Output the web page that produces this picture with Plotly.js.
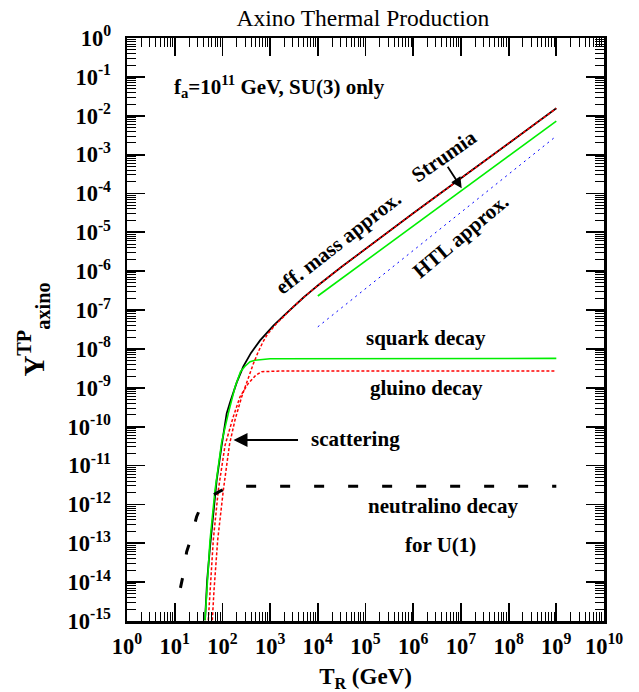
<!DOCTYPE html>
<html>
<head>
<meta charset="utf-8">
<script src="https://cdn.plot.ly/plotly-3.0.1.min.js"></script>
<style>html,body{margin:0;padding:0;background:#fff;}#chart{width:639px;height:692px;}</style>
</head>
<body>
<div id="chart"></div>
<script>
// ---- data (T_R in GeV, Y = axino yield) ----
var effMassT = [43.2, 47.9, 55.0, 64.6, 75.9, 95.5, 123, 145, 200, 275, 398, 617, 851, 1175, 1995, 3090, 5012, 6918, 1e4, 31623, 1e5, 1e6, 1e7, 1e8, 1e9];
var effMassY = [1.05e-15, 1.12e-14, 8.1e-14, 5.9e-13, 4.2e-12, 3.0e-11, 2.2e-10, 4.27e-10, 1.38e-9, 3.55e-9, 7.9e-9, 1.66e-8, 2.63e-8, 3.98e-8, 7.4e-8, 1.24e-7, 2.10e-7, 2.94e-7, 4.28e-7, 1.30e-6, 3.79e-6, 3.08e-5, 2.45e-4, 1.95e-3, 1.55e-2];

var squarkT = [43.2, 46.9, 55.0, 70.0, 96.6, 133, 184, 240, 298, 380, 482, 1000, 1e9];
var squarkY = [1.05e-15, 6.2e-15, 1.2e-13, 2.3e-12, 4.0e-11, 2.2e-10, 1.05e-9, 2.6e-9, 3.6e-9, 4.7e-9, 5.1e-9, 5.6e-9, 5.7e-9];

var scatterT = [61.4, 66.7, 79.6, 104.5, 141, 184, 254, 349, 447, 566, 708, 891, 1122, 1413, 1995, 3090, 5012, 6918, 1e4, 31623, 1e5, 1e6, 1e7, 1e8, 1e9];
var scatterY = [1.05e-15, 6.2e-15, 1.2e-13, 2.3e-12, 3.5e-11, 1.5e-10, 5.9e-10, 1.82e-9, 4.2e-9, 8.5e-9, 1.51e-8, 2.45e-8, 3.4e-8, 4.7e-8, 7.1e-8, 1.23e-7, 2.10e-7, 2.94e-7, 4.28e-7, 1.30e-6, 3.79e-6, 3.08e-5, 2.45e-4, 1.95e-3, 1.55e-2];

var gluinoT = [50.6, 55.0, 64.4, 82.0, 113.5, 169, 234, 349, 501, 667, 1995, 1e9];
var gluinoY = [1.05e-15, 6.2e-15, 1.2e-13, 2.3e-12, 3.3e-11, 1.8e-10, 5.9e-10, 1.3e-9, 2.1e-9, 2.6e-9, 2.72e-9, 2.72e-9];

var strumiaT = [1e4, 1e9];
var strumiaY = [2.3e-7, 7.3e-3];

var htlT = [1e4, 1e9];
var htlY = [3.7e-8, 3.0e-3];

var neutralinoT = [13.2, 14.8, 17.8, 20.9, 28.8, 35.5, 56.2, 89.1, 132, 251, 1e9];
var neutralinoY = [7.1e-15, 1.38e-14, 6.0e-14, 1.1e-13, 4.8e-13, 8.9e-13, 1.58e-12, 2.2e-12, 2.75e-12, 2.95e-12, 2.95e-12];

var xTickVals = [1, 1e1, 1e2, 1e3, 1e4, 1e5, 1e6, 1e7, 1e8, 1e9, 1e10];
var xTickText = ['10<sup>0</sup>','10<sup>1</sup>','10<sup>2</sup>','10<sup>3</sup>','10<sup>4</sup>','10<sup>5</sup>','10<sup>6</sup>','10<sup>7</sup>','10<sup>8</sup>','10<sup>9</sup>','10<sup>10</sup>'];
var yTickVals = [1, 1e-1, 1e-2, 1e-3, 1e-4, 1e-5, 1e-6, 1e-7, 1e-8, 1e-9, 1e-10, 1e-11, 1e-12, 1e-13, 1e-14, 1e-15];
var yTickText = ['10<sup>0</sup>','10<sup>-1</sup>','10<sup>-2</sup>','10<sup>-3</sup>','10<sup>-4</sup>','10<sup>-5</sup>','10<sup>-6</sup>','10<sup>-7</sup>','10<sup>-8</sup>','10<sup>-9</sup>','10<sup>-10</sup>','10<sup>-11</sup>','10<sup>-12</sup>','10<sup>-13</sup>','10<sup>-14</sup>','10<sup>-15</sup>'];

var FONT = '"Liberation Serif", "Times New Roman", serif';

var traces = [
  {x: effMassT, y: effMassY, mode: 'lines', line: {color: '#000000', width: 1.8}, name: 'eff. mass approx.'},
  {x: squarkT, y: squarkY, mode: 'lines', line: {color: '#00ee00', width: 1.6}, name: 'squark decay'},
  {x: strumiaT, y: strumiaY, mode: 'lines', line: {color: '#00ee00', width: 1.6}, name: 'Strumia'},
  {x: scatterT, y: scatterY, mode: 'lines', line: {color: '#ff0000', width: 1.5, dash: '3px,2px'}, name: 'scattering'},
  {x: gluinoT, y: gluinoY, mode: 'lines', line: {color: '#ff0000', width: 1.5, dash: '3px,2px'}, name: 'gluino decay'},
  {x: htlT, y: htlY, mode: 'lines', line: {color: '#0000ff', width: 1, dash: '2px,4px'}, name: 'HTL approx.'},
  {x: neutralinoT, y: neutralinoY, mode: 'lines', line: {color: '#000000', width: 3, dash: '10px,24px'}, name: 'neutralino decay'}
];

function axisBase() {
  return {
    type: 'log', showgrid: false, zeroline: false,
    showline: true, linecolor: '#000', linewidth: 2.5, mirror: 'allticks',
    ticks: 'inside', ticklen: 18, tickwidth: 1.8, tickcolor: '#000',
    tickmode: 'array',
    tickfont: {family: FONT, size: 22.5, color: '#000', weight: 'bold'},
    minor: {ticks: 'inside', ticklen: 9, tickwidth: 1, tickcolor: '#000', dtick: 'D1', showgrid: false}
  };
}
var xaxis = axisBase();
xaxis.range = [0, 10];
xaxis.tickvals = xTickVals; xaxis.ticktext = xTickText;
xaxis.ticklabelstandoff = 3;
xaxis.title = {text: 'T<sub>R</sub> (GeV)', font: {family: FONT, size: 23, color: '#000', weight: 'bold'}, standoff: 14};
var yaxis = axisBase();
yaxis.range = [-15, 0];
yaxis.tickvals = yTickVals; yaxis.ticktext = yTickText;
yaxis.ticklabelstandoff = 9;
yaxis.title = {text: 'Y<sup>TP</sup><sub>axino</sub>', font: {family: FONT, size: 29, color: '#000', weight: 'bold'}, standoff: 15};

function ann(text, xp, yp, angle) {
  return {text: text, xref: 'paper', yref: 'paper', x: xp, y: yp, xanchor: 'center', yanchor: 'middle',
          showarrow: false, textangle: angle || 0,
          font: {family: FONT, size: 21, color: '#000', weight: 'bold'}};
}
var annotations = [
  {text: 'f<sub>a</sub>=10<sup>11</sup> GeV, SU(3) only', xref: 'paper', yref: 'paper', x: 0.094, y: 0.916,
   xanchor: 'left', yanchor: 'middle', showarrow: false, font: {family: FONT, size: 21, color: '#000', weight: 'bold'}},
  ann('eff. mass approx.', 0.4423, 0.6483, -38),
  ann('Strumia', 0.6646, 0.7976, -35),
  ann('HTL approx.', 0.700, 0.660, -40),
  ann('squark decay', 0.627, 0.4854),
  ann('gluino decay', 0.627, 0.3997),
  ann('scattering', 0.480, 0.3122),
  ann('neutralino decay', 0.6625, 0.197),
  ann('for U(1)', 0.658, 0.130),
  {text: '', xref: 'paper', yref: 'paper', x: 0.2233, y: 0.3105, ax: 66, ay: 0,
   showarrow: true, arrowhead: 2, arrowsize: 1.4, arrowwidth: 2, arrowcolor: '#000'},
  {text: '', xref: 'paper', yref: 'paper', x: 0.7017, y: 0.7422, ax: -15, ay: -23,
   showarrow: true, arrowhead: 2, arrowsize: 1.2, arrowwidth: 1.8, arrowcolor: '#000'}
];

var layout = {
  width: 639, height: 692,
  margin: {l: 127, r: 35, t: 38, b: 71, pad: 0},
  paper_bgcolor: '#fff', plot_bgcolor: '#fff',
  showlegend: false,
  title: {text: 'Axino Thermal Production', x: 0.568, xref: 'container', xanchor: 'center', y: 0.974, yanchor: 'middle',
          font: {family: FONT, size: 23.5, color: '#000'}},
  xaxis: xaxis, yaxis: yaxis,
  annotations: annotations
};
Plotly.newPlot('chart', traces, layout, {staticPlot: true, displayModeBar: false});
</script>
</body>
</html>
